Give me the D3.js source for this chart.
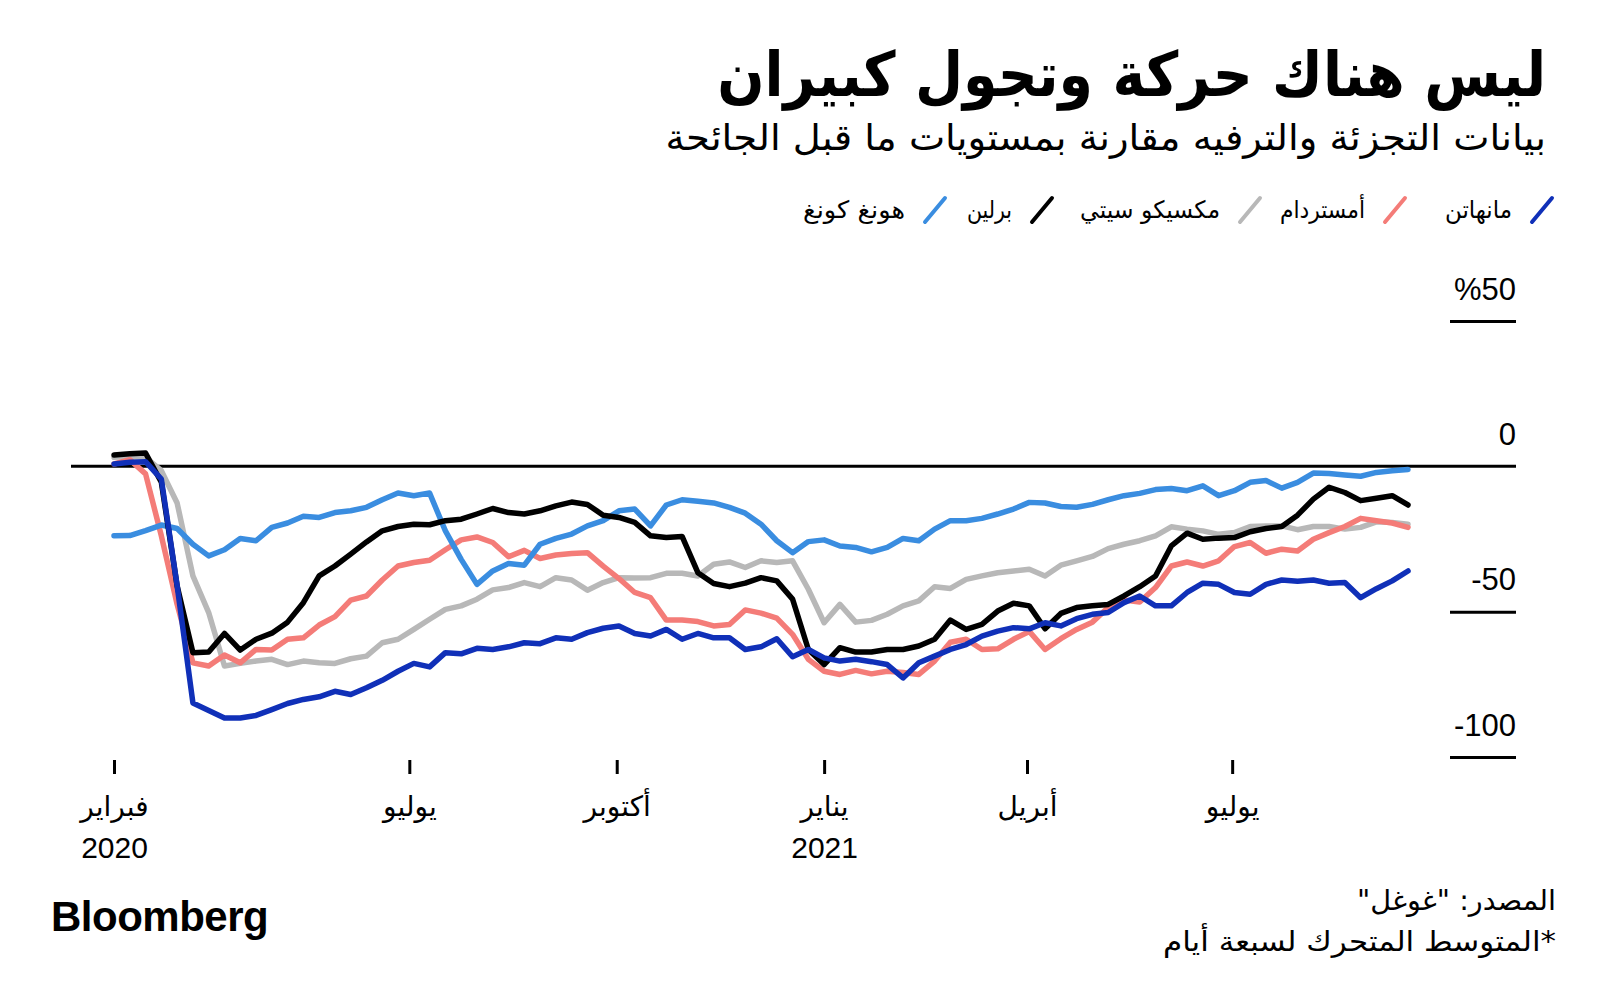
<!DOCTYPE html>
<html>
<head>
<meta charset="utf-8">
<script src="https://cdn.jsdelivr.net/npm/d3@7"></script>
<style>
  body { margin: 0; background: #fff; }
  svg { display: block; }
  .ar { font-family: "DejaVu Sans", sans-serif; }
  .num { font-family: "Liberation Sans", Arial, sans-serif; }
</style>
</head>
<body>
<svg id="chart" width="1600" height="996"></svg>
<script>
// weekly samples of the 7-day average (% vs pre-pandemic)
var startDate = new Date(2020, 1, 21);
var stepDays = 7;

var manhattan = [0.8,1.4,1.6,-4.4,-41,-81.4,-84,-86.6,-86.6,-85.7,
  -83.7,-81.6,-80.2,-79.3,-77.4,-78.5,-76.2,-73.6,-70.5,-67.8,
  -69,-64.1,-64.5,-62.6,-63,-62.1,-60.7,-61,-59,-59.5,
  -57.2,-55.7,-54.9,-57.5,-58.4,-56.1,-59.5,-57.5,-59,-59,
  -63,-62.1,-59.3,-65.5,-63,-65.9,-67,-66.4,-67.2,-68.2,
  -72.8,-67.6,-65.3,-63,-61.3,-58.4,-56.7,-55.5,-55.9,-53.8,
  -54.9,-52.4,-50.9,-50.3,-46.9,-44.6,-48,-48,-43.4,-40.2,
  -40.6,-43.4,-44,-40.6,-39.1,-39.5,-39.1,-40.2,-40,-45.2,
  -42.1,-39.4,-36];

var amsterdam = [0.8,2.3,-2.6,-23.9,-47.5,-67.6,-68.7,-64.9,-67.6,-63,
  -63.2,-59.5,-59,-54.6,-51.7,-46,-44.6,-39.1,-34.3,-33.1,
  -32.3,-28.7,-25.3,-24.3,-26.2,-31.1,-28.9,-31.7,-30.5,-30,
  -29.7,-34.3,-38.6,-43.4,-45.2,-52.9,-52.9,-53.4,-54.9,-54.4,
  -49.4,-50.5,-52.2,-57.8,-66.4,-70.5,-71.6,-70.2,-71.4,-70.5,
  -70.9,-71.6,-67,-60.5,-59.5,-63,-62.8,-59.5,-56.8,-63,
  -59.3,-56.1,-53.6,-48.6,-46,-46.7,-41.7,-34.3,-32.9,-34.3,
  -32.5,-27.6,-26.2,-29.9,-28.5,-29.1,-25.1,-22.8,-20.7,-17.9,
  -18.7,-19.5,-21];

var mexicoCity = [3.1,3.4,3.1,-1.5,-12.6,-37.7,-50.3,-68.7,-67.8,-67,
  -66.4,-68.2,-67,-67.6,-67.8,-66.2,-65.3,-60.7,-59.5,-56.1,
  -52.6,-49.2,-48,-45.7,-42.5,-41.7,-40,-41.4,-38.3,-39.1,
  -42.6,-40,-38.3,-38.4,-38.3,-36.8,-36.8,-37.7,-33.7,-32.9,
  -34.8,-32.5,-33.1,-32.5,-42.3,-53.8,-47.5,-53.6,-53,-50.9,
  -48,-46.3,-41.4,-42,-38.9,-37.7,-36.6,-36,-35.4,-37.7,
  -34,-32.5,-31,-28.3,-26.8,-25.6,-23.9,-20.8,-21.6,-22.2,
  -23.4,-22.8,-20.7,-20.5,-20.5,-21.8,-20.7,-20.7,-21.6,-21,
  -19.1,-19.3,-19.9];

var berlin = [3.9,4.3,4.6,-5.5,-41.1,-64.1,-63.9,-57.5,-63.2,-59.5,
  -57.4,-53.6,-46.9,-37.7,-34.3,-30.2,-26,-22.2,-20.7,-19.9,
  -20.1,-18.7,-18.2,-16.4,-14.5,-15.9,-16.4,-15.3,-13.6,-12.3,
  -13.1,-16.8,-17.6,-19.3,-23.9,-24.5,-24.1,-36.6,-40.3,-41.4,
  -40.2,-38.3,-39.4,-45.7,-63,-68.2,-62.4,-63.9,-63.9,-63,
  -63,-61.8,-59.5,-52.9,-56.1,-54.4,-49.8,-47.1,-48,-55.9,
  -50.6,-48.6,-48,-47.5,-44.6,-41.4,-37.7,-27.4,-23,-25.1,
  -24.7,-24.5,-22.5,-21.4,-20.7,-16.8,-11.3,-7.2,-9,-11.8,
  -11,-10.1,-13.3];

var hongKong = [-23.9,-23.8,-22.1,-20.2,-21.4,-26.8,-30.8,-28.7,-24.8,-25.6,
  -21,-19.5,-17.2,-17.6,-15.9,-15.3,-14.1,-11.5,-9.2,-10.1,
  -9.2,-22.2,-32,-40.6,-36,-33.4,-34,-26.8,-24.8,-23.3,
  -20.5,-18.7,-15.3,-14.7,-20.5,-13.3,-11.5,-12,-12.6,-14.1,
  -16.1,-19.9,-25.6,-29.7,-25.9,-25.3,-27.4,-27.9,-29.4,-27.9,
  -24.8,-25.6,-21.6,-18.7,-18.7,-17.9,-16.4,-14.7,-12.4,-12.6,
  -13.8,-14.1,-13.1,-11.5,-10.1,-9.3,-8,-7.6,-8.4,-6.7,
  -10.1,-8.4,-5.5,-4.9,-7.5,-5.5,-2.3,-2.5,-3,-3.4,
  -2.1,-1.5,-1.1];

var seriesNames = ["مانهاتن", "أمستردام", "مكسيكو سيتي", "برلين", "هونغ كونغ"];
var seriesColors = ["#1030b8", "#f47c78", "#b8b8b8", "#000000", "#3a8de0"];
var seriesValues = [manhattan, amsterdam, mexicoCity, berlin, hongKong];

var tickDates = ["2020-02-21", "2020-07-01", "2020-10-01", "2021-01-01", "2021-04-01", "2021-07-01"];
var tickMonths = ["فبراير", "يوليو", "أكتوبر", "يناير", "أبريل", "يوليو"];
var tickYears = ["2020", "", "", "2021", "", ""];

var yTicks = [50, 0, -50, -100];
var yTickLabels = ["%50", "0", "-50", "-100"];

var svg = d3.select("#chart");
var parse = d3.timeParse("%Y-%m-%d");

var dates = manhattan.map(function(d, i) { return d3.timeDay.offset(startDate, i * stepDays); });

var x = d3.scaleTime()
    .domain([startDate, dates[dates.length - 1]])
    .range([114, 1408]);

var y = d3.scaleLinear()
    .domain([-100, 50])
    .range([757, 321]);

function fit(sel, w) {
  sel.attr("textLength", w).attr("lengthAdjust", "spacingAndGlyphs");
}

// squeeze a right-anchored text horizontally to a given width
function squeeze(sel, w) {
  var node = sel.node();
  var len = node.getComputedTextLength();
  var ax = +sel.attr("x"), ay = +sel.attr("y");
  sel.attr("x", 0).attr("y", 0)
     .attr("transform", "translate(" + ax + "," + ay + ") scale(" + (w / len) + ",1)");
}

// title + subtitle
svg.append("text")
    .attr("class", "ar")
    .attr("x", 1546).attr("y", 96)
    .attr("direction", "rtl")
    .attr("font-size", 62).attr("font-weight", "bold")
    .text("ليس هناك حركة وتجول كبيران")
    .call(squeeze, 829);

svg.append("text")
    .attr("class", "ar")
    .attr("x", 1546).attr("y", 150)
    .attr("direction", "rtl")
    .attr("font-size", 36)
    .text("بيانات التجزئة والترفيه مقارنة بمستويات ما قبل الجائحة")
    .call(squeeze, 881);

// legend
var legendX = [1552, 1405, 1260, 1052, 945];
var legendW = [67, 85, 140, 45, 102];
var legend = svg.append("g");
seriesNames.forEach(function(name, i) {
  legend.append("line")
      .attr("x1", legendX[i] - 20).attr("y1", 222)
      .attr("x2", legendX[i]).attr("y2", 198)
      .attr("stroke", seriesColors[i])
      .attr("stroke-width", 4)
      .attr("stroke-linecap", "round");
  legend.append("text")
      .attr("class", "ar")
      .attr("x", legendX[i] - 40).attr("y", 218)
      .attr("direction", "rtl")
      .attr("font-size", 24)
      .text(name)
      .call(fit, legendW[i]);
});

// y axis: labels above short rules on the right
var yAxis = svg.append("g")
    .attr("transform", "translate(1516,0)")
    .call(d3.axisLeft(y).tickValues(yTicks).tickSize(66)
      .tickFormat(function(d, i) { return yTickLabels[i]; }));
yAxis.select(".domain").remove();
yAxis.selectAll(".tick line")
    .attr("stroke", "#000").attr("stroke-width", 3)
    .attr("display", function(d) { return d === 0 ? "none" : null; });
yAxis.selectAll(".tick text")
    .attr("class", "num")
    .attr("x", 0).attr("dy", -22)
    .attr("text-anchor", "end")
    .attr("font-size", 31)
    .attr("fill", "#000");

// zero line
svg.append("line")
    .attr("x1", 71).attr("x2", 1516)
    .attr("y1", y(0)).attr("y2", y(0))
    .attr("stroke", "#000").attr("stroke-width", 3);

// series
var line = d3.line()
    .x(function(d, i) { return x(dates[i]); })
    .y(function(d) { return y(d); })
    .curve(d3.curveLinear);

var drawOrder = [2, 1, 4, 3, 0];
drawOrder.forEach(function(k) {
  svg.append("path")
      .datum(seriesValues[k])
      .attr("fill", "none")
      .attr("stroke", seriesColors[k])
      .attr("stroke-width", 5.5)
      .attr("stroke-linejoin", "round")
      .attr("stroke-linecap", "round")
      .attr("d", line);
});

// x axis
var xAxis = svg.append("g")
    .attr("transform", "translate(0,760)")
    .call(d3.axisBottom(x).tickValues(tickDates.map(parse)).tickSize(14)
      .tickFormat(function(d, i) { return tickMonths[i]; }));
xAxis.select(".domain").remove();
xAxis.selectAll(".tick line").attr("stroke", "#000").attr("stroke-width", 3);
xAxis.selectAll(".tick text")
    .attr("class", "ar")
    .attr("y", 56).attr("dy", null)
    .attr("font-size", 28)
    .attr("fill", "#000");
xAxis.selectAll(".tick").append("text")
    .attr("class", "num")
    .attr("y", 98)
    .attr("text-anchor", "middle")
    .attr("font-size", 30)
    .attr("fill", "#000")
    .text(function(d, i) { return tickYears[i]; });

// footer
svg.append("text")
    .attr("class", "ar")
    .attr("x", 1556).attr("y", 910)
    .attr("direction", "rtl")
    .attr("font-size", 28)
    .text("المصدر: \"غوغل\"")
    .call(fit, 199);

svg.append("text")
    .attr("class", "ar")
    .attr("x", 1556).attr("y", 951)
    .attr("direction", "rtl")
    .attr("font-size", 28)
    .text("*المتوسط المتحرك لسبعة أيام")
    .call(fit, 393);

svg.append("text")
    .attr("class", "num")
    .attr("x", 51).attr("y", 931)
    .attr("font-size", 42).attr("font-weight", "bold")
    .attr("letter-spacing", -0.5)
    .text("Bloomberg");
</script>
</body>
</html>
